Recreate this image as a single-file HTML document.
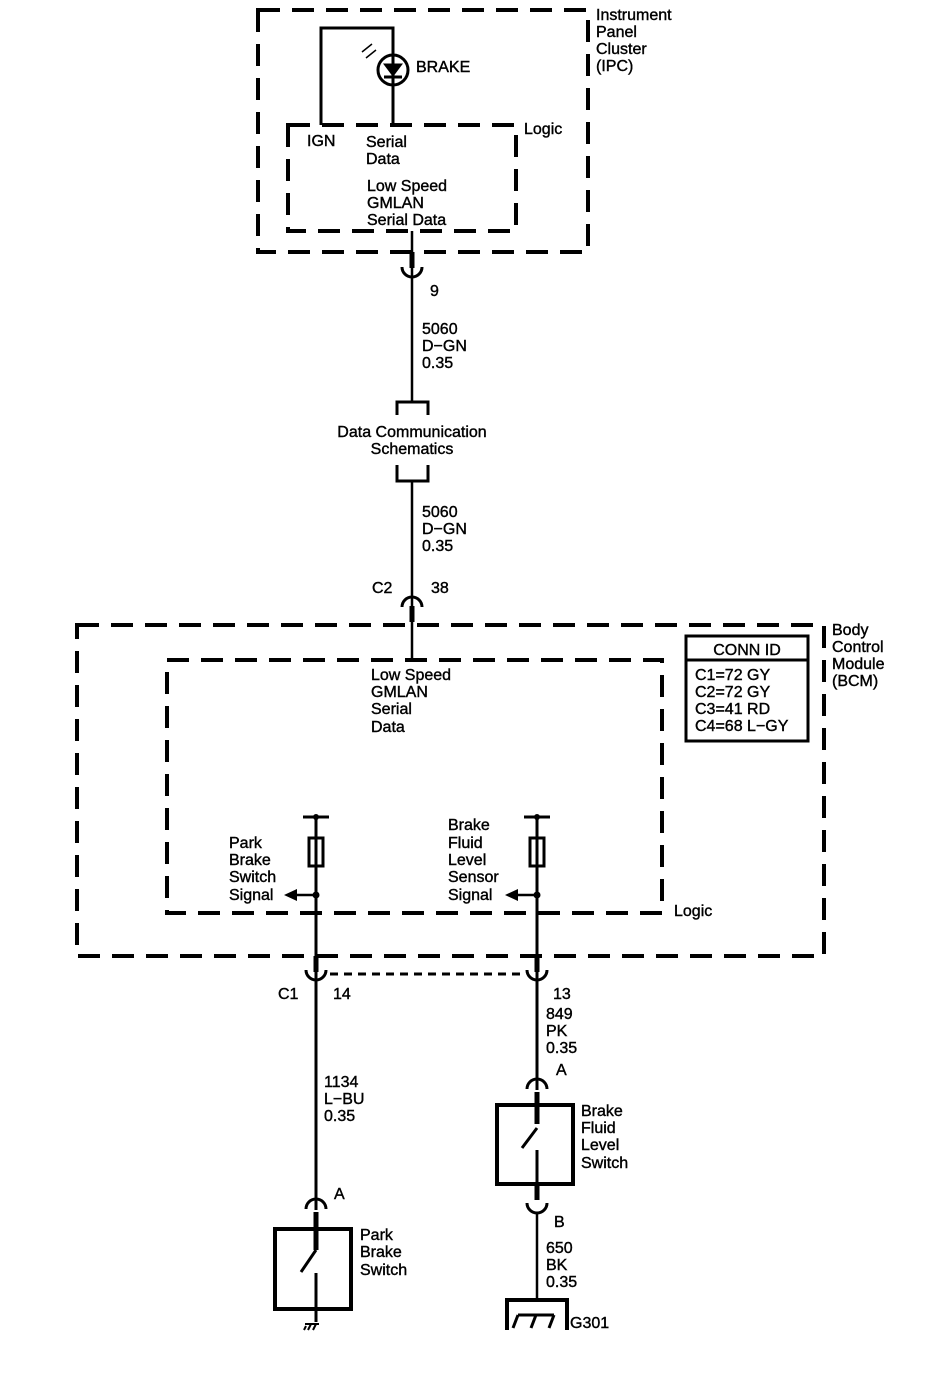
<!DOCTYPE html>
<html><head><meta charset="utf-8"><style>
body{margin:0;background:#fff}
svg text{font-family:"Liberation Sans",sans-serif;font-size:16px;fill:#000;stroke:#000;stroke-width:0.4}
</style></head><body>
<svg width="944" height="1376" viewBox="0 0 944 1376" xmlns="http://www.w3.org/2000/svg">
<g fill="none" stroke="#000">
<g stroke-width="4" stroke-dasharray="22,12">
<rect x="258" y="10" width="330" height="242"/>
<rect x="288" y="125" width="228" height="106"/>
<rect x="77" y="625" width="747" height="331"/>
<rect x="167" y="660" width="495" height="253"/>
</g>
<path d="M330 974H523" stroke-width="3" stroke-dasharray="8,6"/>
<path d="M321 125V28H393V125" stroke-width="3"/>
<circle cx="393" cy="70" r="15" stroke-width="3"/>
<path d="M384 64L402 64L393 76Z" fill="#000" stroke-width="1"/>
<path d="M384 77H402" stroke-width="3"/>
<path d="M362 52l10 -8M366 58l10 -8" stroke-width="1.5"/>
<path d="M412 231V402M412 481V660" stroke-width="2.5"/>
<path d="M412 252V268M412 606V622" stroke-width="5"/>
<path d="M402 267a10 10 0 0 0 20 0" stroke-width="3"/>
<path d="M402 607a10 10 0 0 1 20 0" stroke-width="3"/>
<path d="M397 415V402H428V415M397 465V481H428V465" stroke-width="3"/>
<path d="M303 817H329M316 817V1210" stroke-width="3"/>
<rect x="309" y="838" width="14" height="28" stroke-width="3"/>
<path d="M316 895H296" stroke-width="2.5"/>
<path d="M316 956V972" stroke-width="5"/>
<path d="M306 970a10 10 0 0 0 20 0" stroke-width="3"/>
<path d="M306 1209a10 10 0 0 1 20 0" stroke-width="3"/>
<path d="M316 1212V1250" stroke-width="5"/>
<rect x="275" y="1229" width="76" height="80" stroke-width="4"/>
<path d="M316 1250L301 1272M316 1273V1322" stroke-width="3"/>
<path d="M305 1324h14M306 1326l-2 4M311 1324l-3 6M316 1324l-3 6" stroke-width="2"/>
<path d="M524 817H550M537 817V1090" stroke-width="3"/>
<rect x="530" y="838" width="14" height="28" stroke-width="3"/>
<path d="M537 895H517" stroke-width="2.5"/>
<path d="M537 956V972" stroke-width="5"/>
<path d="M527 970a10 10 0 0 0 20 0" stroke-width="3"/>
<path d="M527 1089a10 10 0 0 1 20 0" stroke-width="3"/>
<path d="M537 1092V1124M537 1184V1200" stroke-width="5"/>
<rect x="497" y="1105" width="76" height="79" stroke-width="4"/>
<path d="M537 1128L522 1148M537 1150V1184" stroke-width="3"/>
<path d="M527 1203a10 10 0 0 0 20 0" stroke-width="3"/>
<path d="M537 1213V1300" stroke-width="2.5"/>
<path d="M507 1330V1300H567V1330" stroke-width="4"/>
<path d="M518 1315H554M518 1315l-5 13M536 1315l-5 13M554 1315l-5 13" stroke-width="3"/>
<rect x="686" y="636" width="122" height="105" stroke-width="3"/>
<path d="M686 660H808" stroke-width="3"/>
</g>
<g fill="#000">
<circle cx="316" cy="817" r="3"/><circle cx="316" cy="895" r="3.5"/>
<circle cx="537" cy="817" r="3"/><circle cx="537" cy="895" r="3.5"/>
<path d="M284 895L297 889V901Z"/><path d="M505 895L518 889V901Z"/>
</g>
<text x="596" y="20">Instrument</text><text x="596" y="37">Panel</text><text x="596" y="54">Cluster</text><text x="596" y="71">(IPC)</text>
<text x="416" y="72">BRAKE</text>
<text x="524" y="134">Logic</text>
<text x="307" y="146">IGN</text>
<text x="366" y="147">Serial</text><text x="366" y="164">Data</text>
<text x="367" y="191">Low Speed</text><text x="367" y="208">GMLAN</text><text x="367" y="225">Serial Data</text>
<text x="430" y="296">9</text>
<text x="422" y="334">5060</text><text x="422" y="351">D−GN</text><text x="422" y="368">0.35</text>
<text x="412" y="437" text-anchor="middle">Data Communication</text>
<text x="412" y="454" text-anchor="middle">Schematics</text>
<text x="422" y="517">5060</text><text x="422" y="534">D−GN</text><text x="422" y="551">0.35</text>
<text x="372" y="593">C2</text><text x="431" y="593">38</text>
<text x="371" y="680">Low Speed</text><text x="371" y="697">GMLAN</text><text x="371" y="714">Serial</text><text x="371" y="732">Data</text>
<text x="747" y="655" text-anchor="middle">CONN ID</text>
<text x="695" y="680">C1=72 GY</text><text x="695" y="697">C2=72 GY</text><text x="695" y="714">C3=41 RD</text><text x="695" y="731">C4=68 L−GY</text>
<text x="832" y="635">Body</text><text x="832" y="652">Control</text><text x="832" y="669">Module</text><text x="832" y="686">(BCM)</text>
<text x="229" y="848">Park</text><text x="229" y="865">Brake</text><text x="229" y="882">Switch</text><text x="229" y="900">Signal</text>
<text x="448" y="830">Brake</text><text x="448" y="848">Fluid</text><text x="448" y="865">Level</text><text x="448" y="882">Sensor</text><text x="448" y="900">Signal</text>
<text x="674" y="916">Logic</text>
<text x="278" y="999">C1</text><text x="333" y="999">14</text><text x="553" y="999">13</text>
<text x="546" y="1019">849</text><text x="546" y="1036">PK</text><text x="546" y="1053">0.35</text>
<text x="556" y="1075">A</text>
<text x="324" y="1087">1134</text><text x="324" y="1104">L−BU</text><text x="324" y="1121">0.35</text>
<text x="581" y="1116">Brake</text><text x="581" y="1133">Fluid</text><text x="581" y="1150">Level</text><text x="581" y="1168">Switch</text>
<text x="334" y="1199">A</text>
<text x="554" y="1227">B</text>
<text x="360" y="1240">Park</text><text x="360" y="1257">Brake</text><text x="360" y="1275">Switch</text>
<text x="546" y="1253">650</text><text x="546" y="1270">BK</text><text x="546" y="1287">0.35</text>
<text x="570" y="1328">G301</text>
</svg>
</body></html>
